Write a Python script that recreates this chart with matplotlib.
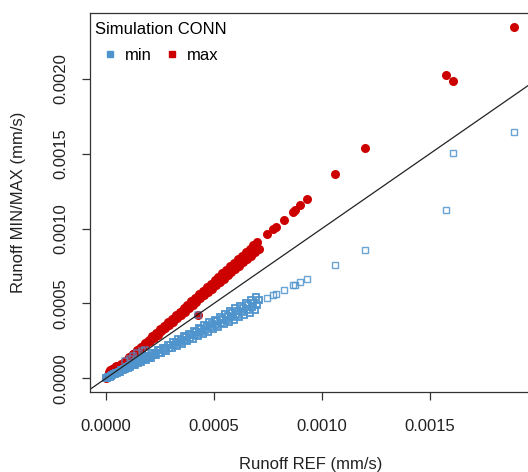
import matplotlib.pyplot as plt
from matplotlib.lines import Line2D

plt.rcParams['font.family'] = ['Liberation Sans', 'DejaVu Sans']

UM = 1e-6  # values below are in 1e-6 mm/s

# dense part of the cloud
ref_band = [0, 4, 10, 17, 23, 28, 35, 41, 46, 53, 59, 64, 71, 77, 82, 89, 95, 100,
            107, 113, 118, 125, 131, 136, 143, 149, 154, 161, 167, 172, 179, 185, 190,
            197, 203, 208, 215, 221, 226, 233, 239, 244, 251, 257, 262, 269, 275, 280,
            287, 293, 298, 305, 311, 316, 323, 329, 334, 341, 347, 352, 359, 365, 370,
            377, 383, 388, 395, 401, 406, 413, 419, 424, 431, 437, 442, 449, 455, 460,
            467, 473, 478, 485, 491, 496, 503, 509, 514, 521, 527, 532, 539, 545, 550,
            557, 563, 568, 575, 581, 586, 593, 599, 604, 611, 617, 622, 629, 635, 640,
            647, 653, 658, 665, 671, 676, 683, 689, 694, 701, 707]
max_band = [0, 5, 13, 22, 28, 35, 46, 50, 58, 69, 72, 81, 92, 94, 103, 116, 116, 126,
            139, 138, 149, 163, 160, 171, 186, 182, 194, 209, 204, 217, 233, 226, 239,
            256, 248, 262, 280, 270, 285, 303, 292, 307, 326, 314, 330, 350, 336, 353,
            373, 357, 375, 397, 379, 398, 420, 401, 421, 443, 423, 444, 467, 445, 466,
            490, 467, 489, 514, 489, 512, 537, 511, 534, 560, 533, 557, 584, 555, 580,
            607, 577, 602, 631, 599, 625, 654, 621, 648, 677, 643, 670, 701, 665, 693,
            724, 687, 716, 748, 709, 738, 771, 731, 761, 794, 753, 784, 818, 775, 806,
            841, 797, 829, 865, 819, 852, 888, 841, 874, 911, 863]
min_band = [0, 3, 7, 11, 18, 20, 26, 27, 36, 37, 44, 42, 55, 54, 61, 59, 74, 70,
            79, 75, 92, 88, 97, 90, 112, 104, 114, 106, 130, 120, 132, 122, 148,
            138, 150, 137, 168, 155, 167, 154, 186, 171, 186, 170, 204, 188, 204, 185,
            224, 205, 221, 201, 243, 221, 239, 217, 261, 239, 257, 232, 280, 256, 274,
            249, 299, 272, 292, 265, 317, 289, 310, 280, 336, 306, 327, 296, 355, 322,
            346, 312, 373, 340, 363, 327, 392, 356, 380, 344, 411, 372, 399, 360, 429,
            390, 417, 375, 449, 407, 434, 391, 467, 423, 452, 407, 485, 440, 470, 422,
            505, 457, 487, 439, 523, 473, 505, 455, 541, 491, 523]

# a few high maxima right at the origin
ref_low = [12, 20, 28, 36, 45]
max_low = [45, 55, 62, 70, 80]

# points where min sits on / above the 1:1 line
ref_near = [88, 111, 127, 145, 165, 181, 424]
min_near = [112, 128, 146, 168, 179, 190, 423]
max_near = [110, 139, 159, 181, 206, 226, 425]

# sparse high-flow points
ref_high = [744, 775, 787, 823, 867, 875, 901, 931, 1060, 1198, 1577, 1606, 1892]
min_high = [535, 555, 563, 590, 620, 623, 646, 666, 759, 855, 1125, 1508, 1645]
max_high = [961, 995, 1012, 1057, 1112, 1123, 1157, 1197, 1363, 1539, 2028, 1988, 2345]

red = '#CD0000'
blue = '#4F94CD'

fig = plt.figure(figsize=(5.28, 4.72), dpi=100)
ax = fig.add_axes([0.1699, 0.1689, 0.8352, 0.8029])

for r, mx in [(ref_band, max_band), (ref_low, max_low), (ref_near, max_near),
              (ref_high, max_high)]:
    ax.plot([v * UM for v in r], [v * UM for v in mx], ls='', marker='o', ms=6.5,
            color=red, mec='none')

ax.plot([v * UM for v in ref_band], [v * UM for v in min_band], ls='', marker='s',
        ms=5.0, mfc='none', mec=blue, mew=1.3)
ax.plot([v * UM for v in ref_near], [v * UM for v in min_near], ls='', marker='s',
        ms=5.0, mfc='none', mec=blue, mew=1.1, alpha=0.7)
ax.plot([v * UM for v in ref_high], [v * UM for v in min_high], ls='', marker='s',
        ms=5.0, mfc='none', mec=blue, mew=1.0, alpha=0.85)

ax.axline((0, 0), slope=1, color='#222222', lw=0.9)

ax.set_xlim(-0.0000757, 0.001968)
ax.set_ylim(-0.0000938, 0.002439)

xt = [0.0, 0.0005, 0.0010, 0.0015]
yt = [0.0, 0.0005, 0.0010, 0.0015, 0.0020]
ax.set_xticks(xt)
ax.set_xticklabels(['%.4f' % v for v in xt])
ax.set_yticks(yt)
ax.set_yticklabels(['%.4f' % v for v in yt], rotation=90, va='center')
ax.tick_params(direction='out', length=6, width=0.9, color='#333333',
               labelsize=12, labelcolor='#222222')
ax.tick_params(axis='x', pad=13)
ax.tick_params(axis='y', pad=9.5)
for s in ax.spines.values():
    s.set_color('#333333')
    s.set_linewidth(0.9)

ax.set_xlabel('Runoff REF (mm/s)', fontsize=12, color='#222222')
ax.set_ylabel('Runoff MIN/MAX (mm/s)', fontsize=12, color='#222222')
ax.xaxis.set_label_coords(0.5, -0.171)
ax.yaxis.set_label_coords(-0.144, 0.5)

handles = [Line2D([], [], ls='', marker='s', ms=4.5, color=blue),
           Line2D([], [], ls='', marker='s', ms=4.5, color=red)]
leg = ax.legend(handles, ['min', 'max'], title='Simulation CONN', loc='upper left',
                bbox_to_anchor=(0.012, 0.977), ncol=2, frameon=False, fontsize=12,
                title_fontsize=12, handlelength=1.8, handletextpad=0.0,
                columnspacing=0.3, borderaxespad=0, borderpad=0, labelspacing=0.65)
leg._legend_box.align = 'left'

fig.savefig('out.png', dpi=100)
